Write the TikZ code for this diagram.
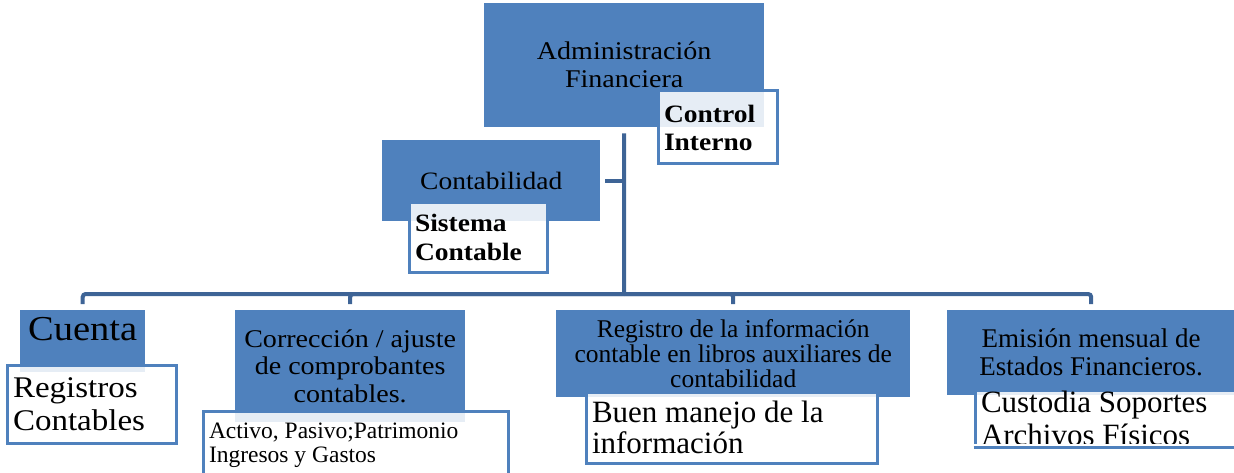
\documentclass[tikz,border=0pt]{standalone}
\usepackage{fontspec}
\setmainfont{Liberation Serif}
\newfontfamily\cam[FakeStretch=1.1]{Liberation Serif}
\definecolor{boxblue}{RGB}{79,129,189}
\definecolor{linkblue}{RGB}{62,100,150}

\begin{document}
\begin{tikzpicture}[x=1pt, y=-1pt,
conn/.style={draw=linkblue, line width=4pt, rounded corners=3pt},
head/.style={fill=boxblue, anchor=north west, inner sep=0pt, align=flush center, font=\cam},
note/.style={draw=boxblue, line width=3pt, fill=white, fill opacity=.86, text opacity=1,
  anchor=north west, inner xsep=6pt, inner ysep=0pt, align=flush left}
]
\useasboundingbox (0,0) rectangle (1234,473);

\node (adm) [head, minimum width=280pt, minimum height=124pt, font=\cam\fontsize{25.5}{28}\selectfont] at (484,3) {Administración\\Financiera};
\node (ctl) [note, text width=107pt, minimum height=73pt, font=\cam\bfseries\fontsize{25}{28}\selectfont] at (656.5,89.5) {Control\\Interno};

\node (cont) [head, minimum width=218pt, minimum height=81pt, font=\cam\fontsize{25}{28}\selectfont] at (382,140) {Contabilidad};
\node (sis) [note, text width=126pt, minimum height=69pt, font=\cam\bfseries\fontsize{25}{29}\selectfont] at (407.5,201.5) {Sistema\\Contable};

\node (cue) [head, minimum width=125pt, minimum height=62pt, text depth=24pt, font=\cam\fontsize{35}{40}\selectfont] at (20,310) {Cuenta};
\node (rgc) [note, text width=157pt, minimum height=78pt, font=\cam\fontsize{30}{33}\selectfont] at (5.5,363.5) {Registros\\Contables};

\node (cor) [head, minimum width=230pt, minimum height=112pt, font=\cam\fontsize{25.5}{27.5}\selectfont] at (235,310) {Corrección / ajuste\\de comprobantes\\contables.};
\node (act) [note, text width=293pt, minimum height=68pt, font=\fontsize{23.5}{24}\selectfont] at (201.5,409.5) {Activo, Pasivo;Patrimonio\\Ingresos y Gastos};

\node (inf) [head, minimum width=354pt, minimum height=87pt, font=\fontsize{25.5}{25}\selectfont] at (556,310) {Registro de la información\\contable en libros auxiliares de\\contabilidad};
\node (bue) [note, text width=279pt, minimum height=71pt, font=\fontsize{31}{31}\selectfont] at (584.5,390.5) {Buen manejo de la\\información};

\node (emi) [head, minimum width=288pt, minimum height=85pt, font=\fontsize{27}{28}\selectfont] at (947,310) {Emisión mensual de\\Estados Financieros.};
\begin{scope}
\clip (960,380) rectangle (1240,443);
\node (cus) [note, text width=250pt, minimum height=56pt, font=\fontsize{31}{33}\selectfont] at (973.5,388.5) {Custodia Soportes\\Archivos Físicos};
\end{scope}
\draw[boxblue, line width=3pt] (cus.south west) -- (cus.south east);

\coordinate (bus) at (624,294);
\draw[conn, shorten <=6pt] (adm) -- (bus);
\draw[conn, shorten <=5pt] (cont) -- (cont -| adm);
\foreach \n in {cue,cor,inf,emi}
  \draw[conn, shorten <=6pt] (\n.north) |- (bus);

\end{tikzpicture}
\end{document}
